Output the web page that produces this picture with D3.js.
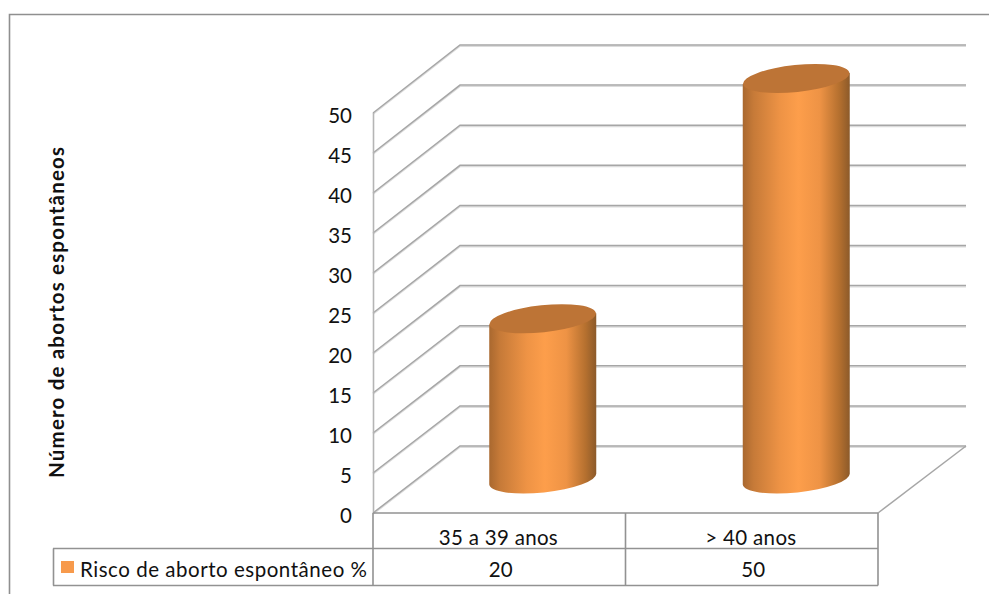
<!DOCTYPE html>
<html lang="pt">
<head>
<meta charset="utf-8">
<script src="https://cdn.jsdelivr.net/npm/d3@7/dist/d3.min.js"></script>
<style>
html,body{margin:0;padding:0;background:#fff;}
svg{display:block;}
text{font-family:Lato,"Open Sans",sans-serif;fill:#111;}
</style>
</head>
<body>
<div id="chart"></div>
<script>
// Chart data
const categories = ["35 a 39 anos", "> 40 anos"];
const seriesName = "Risco de aborto espontâneo %";
const seriesValues = [20, 50];
const yTicks = [0, 5, 10, 15, 20, 25, 30, 35, 40, 45, 50];
const yTitle = "Número de abortos espontâneos";

const width = 989, height = 594;
const svg = d3.select("#chart").append("svg").attr("width", width).attr("height", height);

// Oblique projection: the front wall plane and the back wall plane
const frontX = d3.scaleBand().domain(categories).range([373, 878]).padding(0);
const barX = d3.scaleBand().domain(categories).range([416, 923]).padding(0);
const frontY = d3.scaleLinear().domain([0, 50]).range([513, 113]);
const backY = d3.scaleLinear().domain([0, 50]).range([446, 45]);
const backLeft = 460, backRight = 966;

const defs = svg.append("defs");
const grad = defs.append("linearGradient").attr("id", "cyl").attr("x1", 0).attr("x2", 1).attr("y1", 0).attr("y2", 0);
[[0, "#a9682f"], [0.1, "#c67a38"], [0.35, "#ee9345"], [0.52, "#fd9e4b"], [0.72, "#ee9345"], [0.9, "#b5702f"], [1, "#8c5a2a"]]
  .forEach(([o, c]) => grad.append("stop").attr("offset", o).attr("stop-color", c));

// Outer frame, open on the right and bottom
svg.append("path").attr("d", `M9.5,${height}V14.5H${width}`)
  .attr("fill", "none").attr("stroke", "#8f8f8f").attr("stroke-width", 1.6);

// Walls: gridlines with a soft lower shadow
const grid = svg.append("g").attr("fill", "none");
const gridPath = v => `M373,${frontY(v)}L${backLeft},${backY(v)}H${backRight}`;
grid.selectAll("path.shadow").data(yTicks).join("path").attr("class", "shadow")
  .attr("d", gridPath).attr("transform", "translate(0,1.3)")
  .attr("stroke", "#dcdcdc").attr("stroke-width", 1.4);
grid.selectAll("path.line").data(yTicks).join("path").attr("class", "line")
  .attr("d", gridPath).attr("stroke", "#a6a6a6").attr("stroke-width", 1.5);
grid.append("path").attr("d", `M373.5,${frontY(50)}V${frontY(0)}`).attr("stroke", "#b5b5b5").attr("stroke-width", 1.6);
grid.append("path").attr("d", `M878,${frontY(0)}L${backRight},${backY(0)}`).attr("stroke", "#a6a6a6").attr("stroke-width", 1.5);

// Cylinders stand halfway into the depth of the floor
const midY = v => (frontY(v) + backY(v)) / 2 - 0.5;
const rx = 53.5, ry = 13.5, tilt = -6;
const cx = c => barX(c) + barX.bandwidth() / 2;
const dy = rx * Math.sin(tilt * Math.PI / 180);
const bars = svg.append("g").selectAll("g").data(categories.map((c, i) => ({c, v: seriesValues[i]}))).join("g");
bars.append("path")
  .attr("d", d => {
    const x = cx(d.c), t = midY(d.v), b = midY(0);
    return `M${x - rx},${t - dy}L${x + rx},${t + dy}L${x + rx},${b + dy}` +
      `A${rx},${ry} ${tilt} 0 1 ${x - rx},${b - dy}Z`;
  })
  .attr("fill", "url(#cyl)");
bars.append("ellipse")
  .attr("cx", 0).attr("cy", 0).attr("rx", rx).attr("ry", ry)
  .attr("transform", d => `translate(${cx(d.c)},${midY(d.v)}) rotate(${tilt})`)
  .attr("fill", "#bd7436");

// Value axis labels
svg.append("g").selectAll("text").data(yTicks).join("text")
  .attr("x", 352).attr("y", d => frontY(d) + 10)
  .attr("text-anchor", "end").attr("font-size", 20.5).text(d => d);

// Axis title
svg.append("text")
  .attr("transform", "translate(63.5,312.5) rotate(-90)")
  .attr("text-anchor", "middle")
  .attr("font-size", 20.5).attr("font-weight", 700)
  .attr("textLength", 331).attr("lengthAdjust", "spacing").text(yTitle);

// Data table
const rowTop = 513, rowMid = 548.5, rowBottom = 585.5;
const tableLines = [
  `M373,${rowTop}H878`,
  `M53,${rowMid}H878`,
  `M53,${rowBottom}H878`,
  `M53.5,${rowMid}V${rowBottom}`,
  `M373,${rowTop}V${rowBottom}`,
  `M625.5,${rowTop}V${rowBottom}`,
  `M878,${rowTop}V${rowBottom}`
];
svg.append("g").selectAll("path").data(tableLines).join("path")
  .attr("d", d => d).attr("fill", "none").attr("stroke", "#929292").attr("stroke-width", 1.6);

const center = c => frontX(c) + frontX.bandwidth() / 2;
const categoryWidths = [119, 91];
svg.append("g").selectAll("text").data(categories).join("text")
  .attr("x", d => center(d) - 1).attr("y", 545).attr("text-anchor", "middle").attr("font-size", 20.5)
  .attr("textLength", (d, i) => categoryWidths[i]).attr("lengthAdjust", "spacing").text(d => d);
svg.append("g").selectAll("text").data(seriesValues).join("text")
  .attr("x", (d, i) => center(categories[i]) + 1.5).attr("y", 577).attr("text-anchor", "middle").attr("font-size", 20.5).text(d => d);

// Legend key inside the table
svg.append("rect").attr("x", 61).attr("y", 561).attr("width", 13).attr("height", 12).attr("fill", "#f79a4c");
svg.append("text").attr("x", 80).attr("y", 577).attr("font-size", 20.5)
  .attr("textLength", 287).attr("lengthAdjust", "spacing").text(seriesName);
</script>
</body>
</html>
